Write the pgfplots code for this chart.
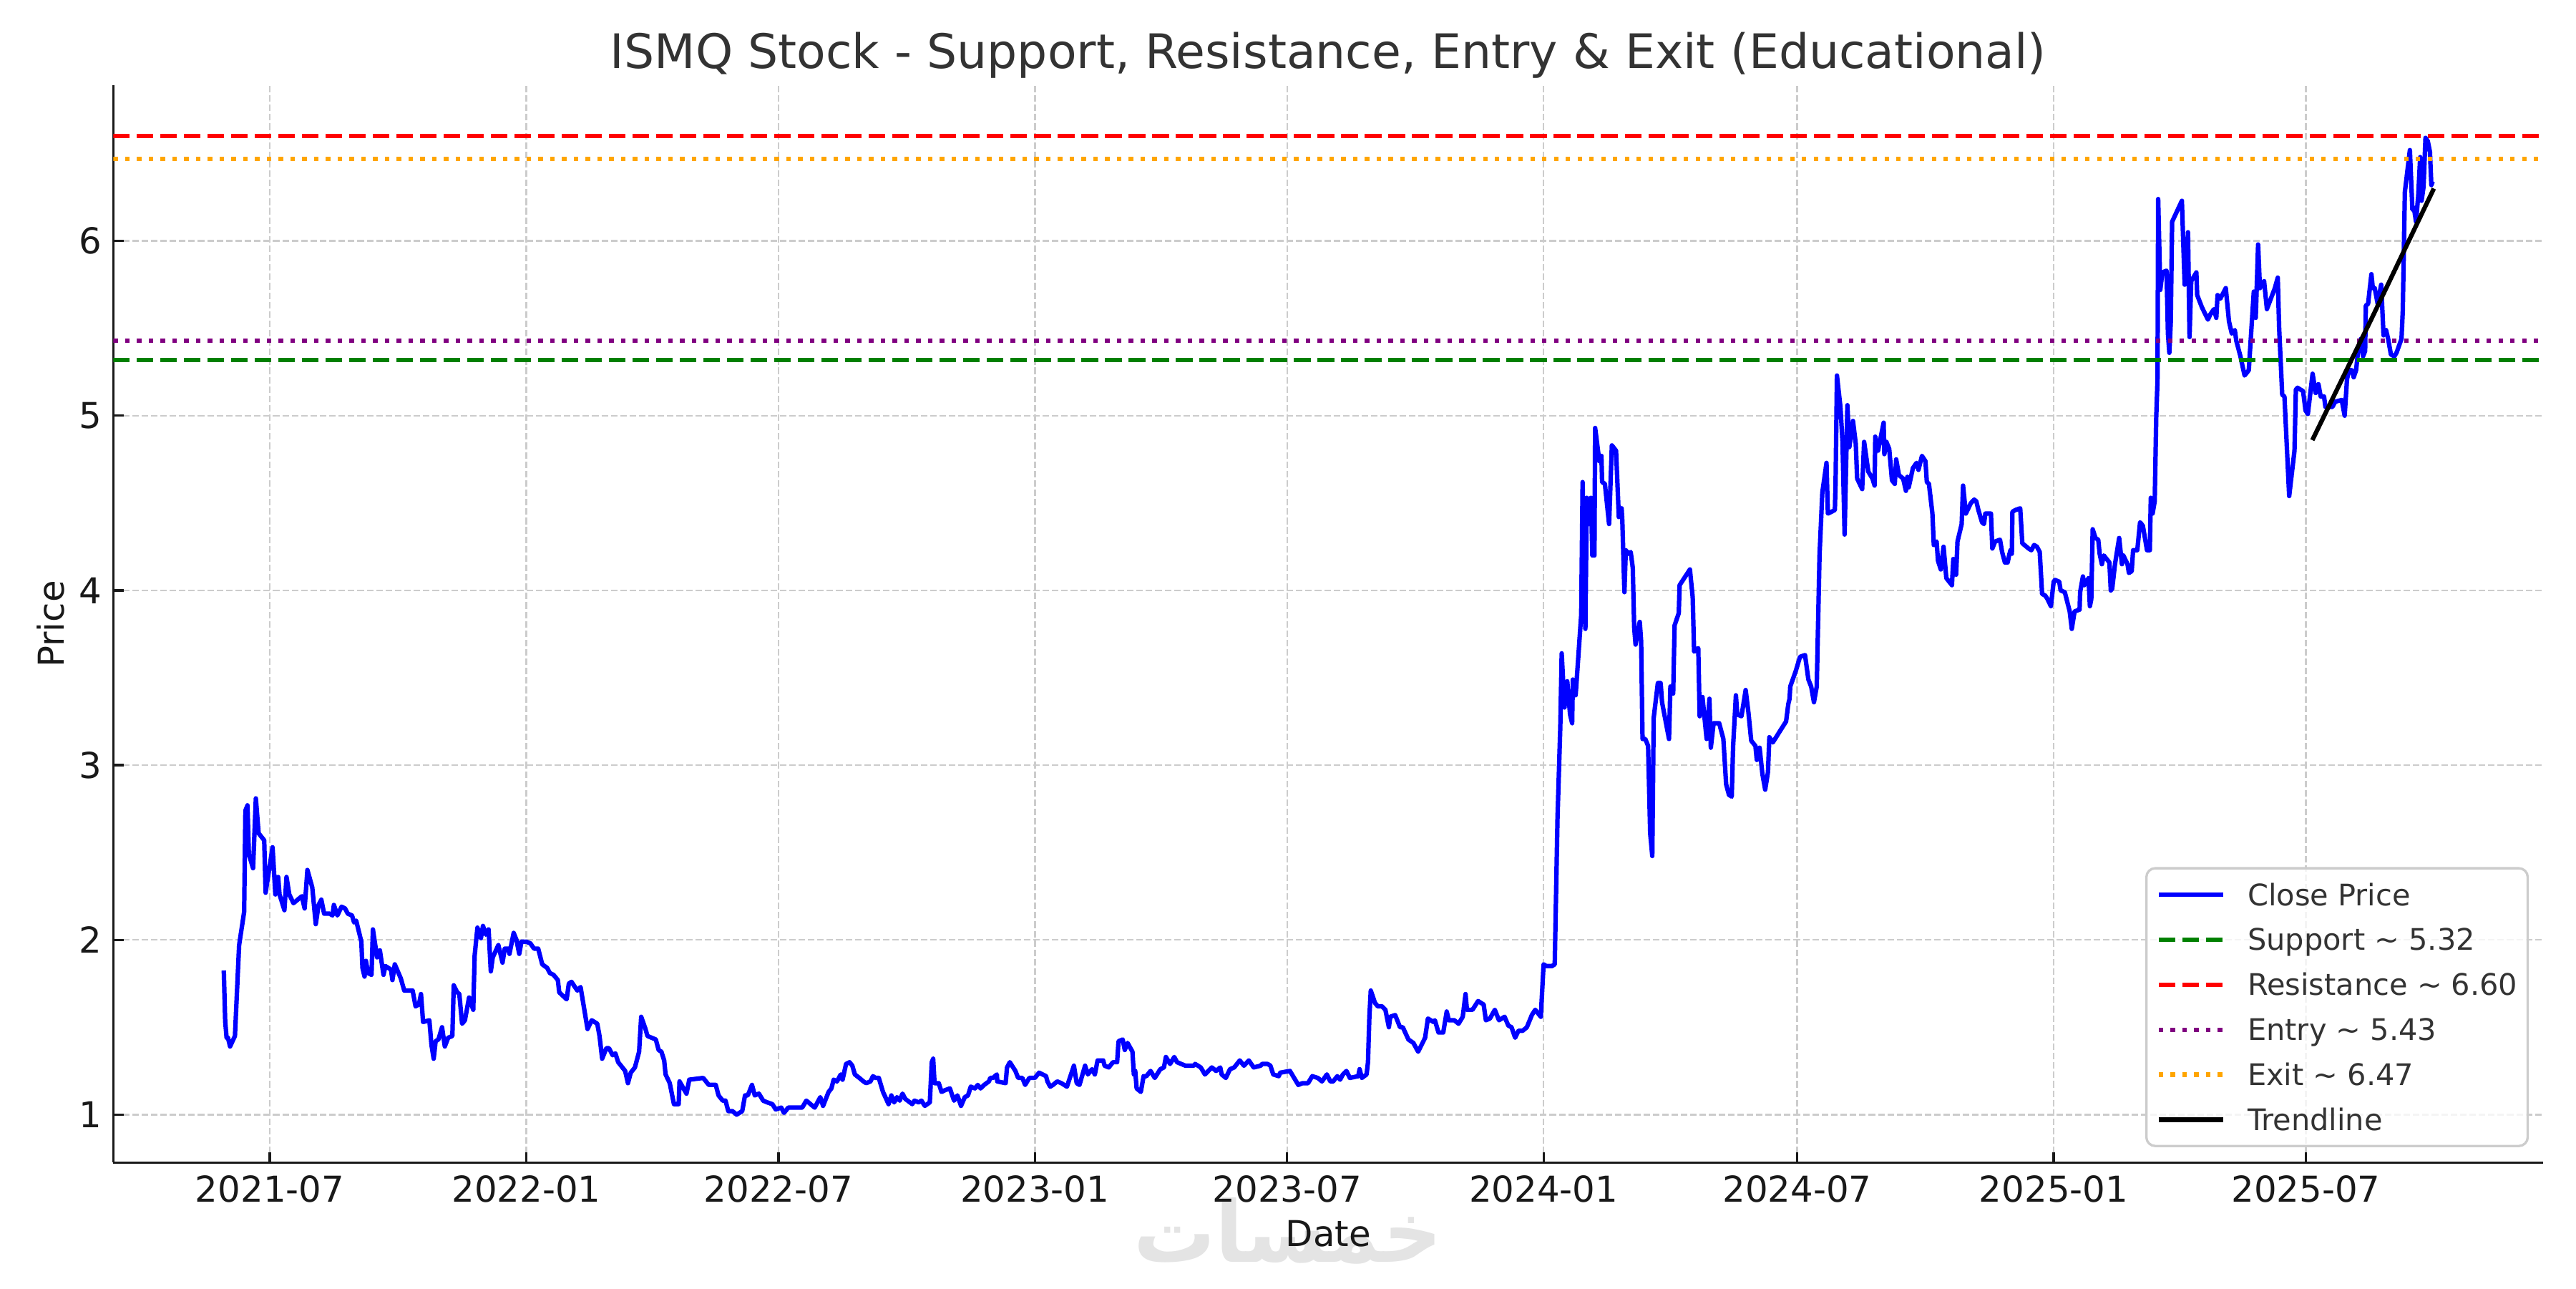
\documentclass[border=0pt]{standalone}
\usepackage{fontspec}
\setmainfont{DejaVu Sans}
\newfontfamily\arabicfont[Script=Arabic]{DejaVu Sans}
\TeXXeTstate=1
\usepackage{graphicx}
\usepackage{pgfplots}
\pgfplotsset{compat=1.18}
\definecolor{gridgray}{RGB}{204,204,204}
\definecolor{legframe}{RGB}{204,204,204}
\definecolor{wm}{RGB}{228,228,228}
\definecolor{mplgreen}{RGB}{0,128,0}
\definecolor{mplpurple}{RGB}{128,0,128}
\definecolor{mplorange}{RGB}{255,165,0}
\begin{document}
\begin{tikzpicture}
\useasboundingbox (0,0) rectangle (12in,6in);
% watermark
\node[inner sep=0pt, text=wm] at (6.0in,0.267in) {\resizebox{1.437in}{0.30in}{\arabicfont\bfseries\beginR خمسات\endR}};
\begin{axis}[
  at={(0.528in,0.585in)}, anchor=south west,
  width=11.319in, height=5.017in, scale only axis,
  xmin=68.75, xmax=1812.25, ymin=0.725, ymax=6.89,
  axis x line*=bottom, axis y line*=left,
  axis line style={black!90, line width=0.8pt},
  xtick={181,365,546,730,911,1095,1277,1461,1642},
  xticklabels={2021-07,2022-01,2022-07,2023-01,2023-07,2024-01,2024-07,2025-01,2025-07},
  ytick={1,2,3,4,5,6},
  yticklabels={1,2,3,4,5,6},
  /pgf/number format/assume math mode=true,
  tick align=inside, major tick length=3.5pt,
  every tick/.style={black!90, line width=0.8pt},
  minor tick num=0,
  grid=major,
  major grid style={gridgray, line width=0.6pt, dash pattern=on 2.2pt off 0.96pt},
  tick label style={font=\fontsize{12}{14}\selectfont, text=black!90},
  xticklabel style={inner sep=0pt, anchor=north, yshift=-4.1pt},
  yticklabel style={inner sep=0pt, anchor=east, xshift=-3.8pt},
  legend image code/.code={\draw[#1] (0pt,0pt) -- (21.7pt,0pt);},
  legend cell align=left,
  legend style={at={(1,0)}, anchor=south east, xshift=-4.8pt, yshift=5.2pt,
    draw=legframe, line width=0.8pt, rounded corners=3pt,
    fill=white, fill opacity=0.8, draw opacity=1, text opacity=1,
    inner xsep=3.4pt, inner ysep=1.3pt,
    font=\fontsize{10}{12}\selectfont, text=black!80,
    column sep=7.5pt, row sep=0pt,
    nodes={inner sep=0pt, text height=11.2pt, text depth=3.95pt, anchor=west}},
]
\addplot[blue, line width=1.5pt, line join=round] coordinates {
(148,1.825)(149,1.535)(150,1.44)(151,1.44)(152.5,1.39)(156,1.45)(159,1.97)(162.6,2.16)(163.5,2.74)(165,2.77)
(166,2.49)(169,2.41)(171,2.81)(173,2.61)(177,2.57)(178,2.27)(183,2.53)(185,2.26)(187,2.36)(188,2.26)
(191.5,2.17)(193,2.36)(195,2.26)(198,2.21)(204,2.25)(206,2.18)(208,2.40)(211.5,2.30)(214,2.09)(216,2.20)
(218,2.23)(220,2.15)(224,2.15)(226,2.14)(227,2.20)(229.5,2.14)(232.5,2.19)(235,2.18)(237,2.15)(240,2.14)
(241.5,2.10)(243,2.11)(246.7,1.99)(247.5,1.84)(249,1.79)(250,1.88)(251.5,1.81)(254,1.80)(255,2.06)(258,1.90)
(260,1.94)(262.6,1.80)(264,1.85)(268,1.83)(269,1.77)(270.7,1.86)(275,1.78)(277.5,1.71)(283.5,1.71)(285.6,1.62)
(288,1.63)(289.5,1.69)(291,1.53)(295.5,1.54)(297,1.40)(298.6,1.32)(300,1.42)(302,1.43)(304.6,1.50)(306.6,1.39)
(309,1.44)(312,1.45)(313,1.74)(315.5,1.70)(317,1.69)(319,1.52)(321,1.54)(324,1.67)(327,1.60)(328,1.91)
(330,2.07)(332.5,2.01)(334,2.08)(336,2.03)(338,2.06)(339.6,1.82)(341,1.90)(345,1.97)(348,1.87)(349.6,1.95)
(352,1.95)(353,1.92)(356,2.04)(358,2.00)(360,1.92)(361.6,1.99)(365,1.99)
(368,1.98)(370.6,1.95)(373.6,1.95)(376.5,1.86)(380,1.84)(382,1.81)(384.6,1.80)(387.7,1.77)(388.7,1.70)(394,1.66)
(395.6,1.75)(397.5,1.76)(400,1.73)(401.7,1.71)(404,1.73)(409,1.49)(412,1.54)(416,1.52)(417.6,1.45)(419.5,1.32)
(422.5,1.38)(424.4,1.38)(427,1.34)(429,1.35)(431,1.30)(436,1.25)(438,1.18)(440,1.24)(443,1.27)(446,1.36)
(447.5,1.56)(450.6,1.49)(452,1.45)(455,1.44)(458,1.43)(460,1.37)(462,1.36)(464,1.31)(465,1.23)(468,1.18)
(471,1.06)(474.4,1.06)(475,1.19)(480,1.12)(482,1.20)(492,1.21)(496,1.17)(501,1.17)(503,1.11)(506,1.08)
(508,1.08)(510,1.02)(513,1.02)(516,1.00)(520,1.02)(522,1.11)(524,1.11)(527,1.17)(529,1.11)(532,1.12)
(535,1.08)(538,1.07)(541.6,1.06)(544,1.03)(548,1.04)(550,1.01)(553,1.04)(563,1.04)(566,1.08)(569,1.06)
(572,1.04)(576,1.10)(578,1.05)(582,1.13)(584,1.15)(585.6,1.20)(588,1.19)(590.7,1.23)(592,1.20)(594.5,1.29)
(597,1.30)(599,1.28)(600.8,1.23)(604,1.21)(607,1.19)(609,1.18)(612,1.19)(613.8,1.22)(615.6,1.21)(618,1.21)
(621,1.13)(625,1.06)(627,1.11)(629,1.07)(631,1.10)(633,1.08)(635,1.12)(637,1.09)(642,1.06)(643.6,1.08)
(646.6,1.07)(648.6,1.08)(651,1.05)(654.6,1.07)(656,1.30)(657,1.32)(658,1.18)(661,1.18)(663,1.13)(665.6,1.14)
(669,1.15)(672,1.08)(674.4,1.11)(677,1.05)(679.7,1.10)(682,1.11)(684,1.16)(687,1.15)(689,1.17)(691,1.15)
(693.6,1.17)(697,1.19)(698,1.21)(700,1.21)(702.7,1.23)(703,1.19)(709,1.18)(710,1.27)(712,1.30)(716,1.25)
(718,1.21)(721,1.21)(723,1.17)(726,1.21)
(730,1.21)(733,1.24)(738,1.22)(739,1.19)(741,1.16)(743,1.17)(746,1.19)(749,1.18)(753,1.16)(758,1.28)
(760,1.18)(762,1.17)(766,1.28)(768,1.23)(771,1.26)(773,1.23)(775,1.31)(779,1.31)(780,1.28)(783,1.27)
(786,1.30)(789,1.30)(790,1.42)(793,1.43)(794.5,1.37)(796.5,1.41)(800,1.36)(801,1.23)(802,1.25)(803,1.15)
(806,1.13)(808,1.22)(810,1.22)(811,1.23)(813,1.25)(816,1.21)(820,1.26)(822.6,1.27)(824,1.33)(827,1.29)
(830,1.33)(832,1.30)(838,1.28)(844,1.28)(845,1.29)(849,1.27)(852,1.23)(857,1.27)(860,1.25)(863,1.27)
(864,1.23)(867,1.21)(870,1.26)(873,1.27)(877,1.31)(880,1.28)(883.5,1.31)(887,1.27)(892,1.28)(893,1.29)
(897,1.29)(899,1.28)(901,1.23)(905,1.22)(906,1.24)(913,1.25)(916,1.21)(919,1.17)(922,1.18)(926,1.18)
(929,1.22)(933,1.21)(936,1.19)(939.5,1.23)(942,1.19)(944,1.19)(947,1.22)(949,1.20)(951,1.23)(953.5,1.25)
(956,1.21)(962,1.22)(963,1.26)(964.6,1.21)(968,1.23)(969,1.30)(970,1.56)(971,1.71)(974,1.64)(976,1.62)
(979,1.62)(981.5,1.60)(984,1.50)(985,1.56)(988.5,1.57)(992,1.50)(994,1.50)(998,1.43)(1001.6,1.41)(1005,1.36)
(1010,1.44)(1012,1.55)(1016,1.53)(1017,1.54)(1019.6,1.47)(1023,1.47)(1025.5,1.59)(1027,1.54)(1031,1.54)(1034,1.52)
(1037,1.56)(1039,1.69)(1040,1.60)(1044,1.60)(1048,1.65)(1052,1.63)(1053.6,1.54)(1056.5,1.55)(1060,1.60)(1063,1.54)
(1067,1.56)(1069.7,1.51)(1072,1.50)(1074.6,1.44)(1077,1.48)(1080,1.48)(1083,1.50)(1086.6,1.57)(1089,1.60)(1093,1.56)
(1095,1.86)(1097,1.85)(1101,1.85)
(1103,1.86)(1105,2.70)(1107,3.22)(1108,3.64)(1110,3.33)(1112,3.48)(1114,3.29)(1115.5,3.24)(1116,3.49)(1118,3.40)
(1122,3.86)(1123,4.62)(1125,3.78)(1126,4.53)(1128,4.38)(1129,4.53)(1130,4.20)(1131.5,4.20)(1132,4.93)(1135,4.74)
(1136.5,4.77)(1137,4.62)(1139,4.61)(1142,4.38)(1144,4.83)(1147,4.80)(1149,4.42)(1151,4.47)(1151.5,4.40)(1153,3.99)
(1154,4.23)(1156,4.21)(1157.5,4.22)(1159,4.13)(1160,3.79)(1161,3.69)(1164,3.82)(1165,3.71)(1166,3.15)(1168,3.15)
(1170,3.11)(1171.5,2.61)(1173,2.48)(1174,3.27)(1177,3.47)(1179,3.47)(1180,3.36)(1185,3.15)(1186,3.45)(1188,3.41)
(1189,3.80)(1192,3.87)(1192.6,4.03)(1200,4.12)(1202,3.96)(1203,3.65)(1206,3.67)(1207,3.28)(1209,3.39)(1212,3.15)
(1214,3.38)(1215,3.10)(1217,3.24)(1221,3.24)(1224,3.15)(1226,2.89)(1228,2.83)(1230,2.82)(1231,3.11)(1233,3.40)
(1234,3.29)(1237,3.28)(1240,3.43)(1242,3.30)(1244,3.14)(1247,3.11)(1248,3.03)(1250,3.10)(1252,2.95)(1254,2.86)
(1256,2.96)(1257,3.16)(1259.5,3.13)(1265,3.20)(1269,3.25)(1270.6,3.35)(1271.5,3.38)(1272,3.45)(1276,3.54)(1279,3.62)
(1282.6,3.63)(1285,3.49)(1287,3.45)(1289,3.36)(1291,3.45)(1293,4.20)(1295,4.56)(1298,4.73)(1299,4.44)(1304,4.46)
(1304.5,4.61)(1305.5,5.23)(1308,5.05)(1309.5,4.85)(1311,4.32)(1313,5.06)(1314.4,4.82)(1317,4.97)(1319,4.84)(1320,4.64)
(1323.6,4.58)(1325,4.85)(1328,4.68)(1331,4.64)(1332.5,4.60)(1333,4.88)(1335,4.80)(1339,4.96)(1339.5,4.78)(1341,4.85)
(1343,4.81)(1345,4.63)(1347,4.61)(1348,4.75)(1350,4.66)(1353,4.64)(1355,4.57)(1356,4.65)(1357,4.59)(1360,4.70)
(1362.6,4.73)(1364,4.69)(1366.5,4.77)(1369,4.74)(1370,4.62)(1371.5,4.61)(1374,4.44)(1375,4.26)(1377,4.28)(1378,4.17)
(1380,4.12)(1382,4.25)(1384,4.07)(1388,4.03)(1389,4.18)(1391,4.09)(1392,4.28)(1395,4.38)(1396,4.60)(1398,4.44)
(1401.6,4.50)(1404,4.52)(1405.5,4.51)(1407,4.46)(1409.6,4.39)(1411,4.38)(1412,4.44)(1416,4.44)(1417,4.24)(1419,4.28)
(1422.5,4.29)(1424,4.22)(1426,4.16)(1428,4.16)(1429,4.20)(1430,4.23)(1431,4.21)(1431.4,4.45)(1433.5,4.46)(1437,4.47)
(1438.5,4.27)(1440,4.26)(1443,4.24)(1445,4.23)(1447,4.26)(1449,4.25)(1451,4.22)(1452.7,3.98)(1455,3.97)(1456.6,3.95)
(1459,3.91)(1461,4.05)(1462,4.06)(1465,4.05)(1466,4.00)(1469,3.99)(1472.5,3.88)(1474,3.78)(1476,3.88)(1479.6,3.89)
(1480,3.99)(1482,4.08)(1483,4.03)(1486,4.07)(1487,3.91)(1488,3.95)(1489,4.35)(1491,4.30)(1493,4.29)(1494,4.21)
(1495.6,4.15)(1497,4.20)(1501,4.16)(1502,4.00)(1503,4.01)(1505,4.15)(1508,4.30)(1510,4.15)(1511,4.20)(1514,4.15)
(1515,4.10)(1517,4.11)(1518,4.23)(1521,4.23)(1523,4.39)(1525,4.37)(1528,4.23)(1530,4.23)(1530.7,4.53)(1532,4.44)
(1533.5,4.51)(1534.6,4.99)(1535.5,5.20)(1536,6.24)(1537.5,5.72)(1539,5.82)(1542,5.83)(1543,5.47)(1544,5.36)(1545,5.53)
(1546,6.11)(1553,6.23)(1555,5.75)(1556,5.76)(1557.4,6.05)(1558.5,5.45)(1559.7,5.77)(1563.4,5.82)(1564,5.69)(1567.4,5.62)
(1571.7,5.55)(1573.4,5.58)(1576,5.61)(1577.7,5.56)(1578.6,5.69)(1580.6,5.67)(1584.5,5.73)(1586.8,5.54)(1588.8,5.47)(1591,5.49)
(1592,5.43)(1595,5.34)(1598,5.23)(1601,5.26)(1603.4,5.56)(1604.6,5.71)(1606,5.56)(1607.7,5.98)(1609,5.73)(1612,5.77)
(1614,5.61)(1619.7,5.73)(1621.8,5.79)(1622.8,5.50)(1625,5.12)(1626.6,5.11)(1630,4.54)(1633.8,4.80)(1634.8,5.15)(1636,5.16)
(1640,5.14)(1641.7,5.03)(1643.4,5.01)(1646.8,5.24)(1649,5.13)(1651,5.18)(1652.6,5.11)(1655,5.11)(1656,5.05)(1658,5.05)
(1661,5.05)(1663,5.08)(1667.7,5.09)(1669.8,5.00)(1671.5,5.21)(1673,5.26)(1675,5.26)(1676.3,5.22)(1678,5.26)(1679.7,5.39)
(1681.5,5.44)(1683,5.34)(1684.5,5.37)(1685,5.63)(1686.6,5.64)(1689,5.81)(1690,5.73)(1691.4,5.73)(1693.5,5.64)(1696,5.75)
(1697.7,5.46)(1699.5,5.49)(1701,5.44)(1703,5.35)(1705.5,5.34)(1707,5.36)(1710.6,5.44)(1711.5,5.60)(1713,6.28)(1716.6,6.52)
(1718.4,6.18)(1719.5,6.19)(1721,6.11)(1722.6,6.26)(1724,6.48)(1725,6.23)(1726.4,6.31)(1727.8,6.59)(1729.5,6.57)(1731,6.51)
(1732,6.32)(1733,6.34)
};
\addlegendentry{Close Price}
\addplot[mplgreen, line width=1.5pt, dash pattern=on 5.55pt off 2.4pt] coordinates {(68.75,5.32)(1812.25,5.32)};
\addlegendentry{Support \textasciitilde{} 5.32}
\addplot[red, line width=1.5pt, dash pattern=on 5.55pt off 2.4pt] coordinates {(68.75,6.60)(1812.25,6.60)};
\addlegendentry{Resistance \textasciitilde{} 6.60}
\addplot[mplpurple, line width=1.5pt, dash pattern=on 1.5pt off 2.475pt] coordinates {(68.75,5.43)(1812.25,5.43)};
\addlegendentry{Entry \textasciitilde{} 5.43}
\addplot[mplorange, line width=1.5pt, dash pattern=on 1.5pt off 2.475pt] coordinates {(68.75,6.47)(1812.25,6.47)};
\addlegendentry{Exit \textasciitilde{} 6.47}
\addplot[black, line width=1.5pt] coordinates {(1646.6,4.86)(1690,5.57)(1733.8,6.30)};
\addlegendentry{Trendline}
\end{axis}
\node[anchor=base, font=\fontsize{16}{19}\selectfont, text=black!80] at (6.1875in,5.68in) {ISMQ Stock - Support, Resistance, Entry \& Exit (Educational)};
\node[anchor=base, font=\fontsize{12}{14}\selectfont, text=black!90] at (6.1875in,0.194in) {Date};
\node[anchor=base, rotate=90, font=\fontsize{12}{14}\selectfont, text=black!90] at (0.2977in,3.0935in) {Price};
\end{tikzpicture}
\end{document}
